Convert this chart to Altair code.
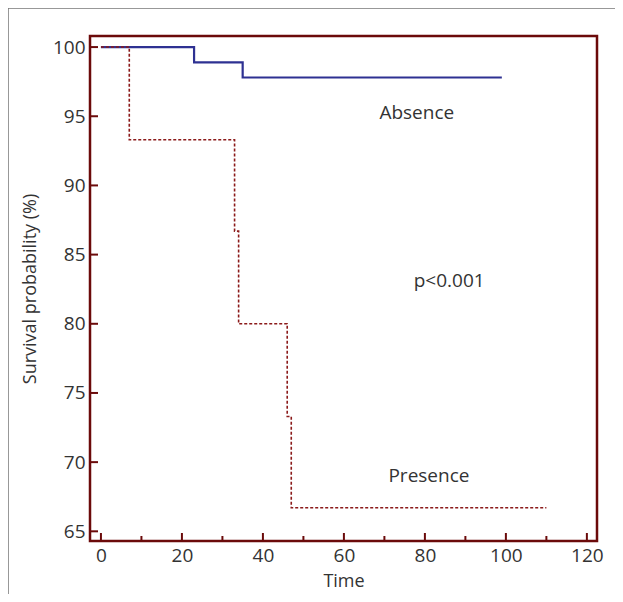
import altair as alt
import pandas as pd

# Kaplan-Meier step data
absence_time = [0, 23, 35, 99]
absence_surv = [100, 98.9, 97.8, 97.8]
presence_time = [0, 7, 33, 34, 46, 47, 110]
presence_surv = [100, 93.3, 86.7, 80.0, 73.3, 66.7, 66.7]

y_ticks = [65, 70, 75, 80, 85, 90, 95, 100]
x_major = [0, 20, 40, 60, 80, 100, 120]
x_minor = [10, 30, 50, 70, 90, 110]

labels = ["Absence", "p<0.001", "Presence"]
label_x = [78, 86, 81]
label_y = [95.2, 83.1, 69.0]

FONT = "Open Sans"
BORDER = "#6b0a0a"
W, H = 507, 505

xs = alt.Scale(domain=[-2.7, 122.5], nice=False, zero=False)
ys = alt.Scale(domain=[64.3, 100.8], nice=False, zero=False)

df_abs = pd.DataFrame({"t": absence_time, "s": absence_surv})
df_pre = pd.DataFrame({"t": presence_time, "s": presence_surv})

x_axis = alt.Axis(values=x_major, ticks=False, domain=False, grid=False,
                  labelFontSize=19, labelFont=FONT, labelColor="#333333",
                  labelPadding=5, title="Time", titleFont=FONT, titleFontSize=18,
                  titleFontWeight="normal", titleColor="#333333", titlePadding=7)
y_axis = alt.Axis(values=y_ticks, ticks=False, domain=False, grid=False,
                  labelFontSize=19, labelFont=FONT, labelColor="#333333",
                  labelPadding=5, title="Survival probability (%)", titleFont=FONT,
                  titleFontSize=18, titleFontWeight="normal", titleColor="#333333",
                  titlePadding=13)

absence = alt.Chart(df_abs).mark_line(interpolate="step-after", color="#2e3192",
                                      strokeWidth=2.2).encode(
    x=alt.X("t:Q", scale=xs, axis=x_axis),
    y=alt.Y("s:Q", scale=ys, axis=y_axis),
)
presence = alt.Chart(df_pre).mark_line(interpolate="step-after", color="#8b1a1a",
                                       strokeWidth=1.6, strokeDash=[3, 2]).encode(
    x=alt.X("t:Q", scale=xs),
    y=alt.Y("s:Q", scale=ys),
)

ytick = alt.Chart(pd.DataFrame({"v": y_ticks})).mark_rule(
    color=BORDER, strokeWidth=2).encode(
    y=alt.Y("v:Q", scale=ys), x=alt.value(0), x2=alt.value(8))
xmaj = alt.Chart(pd.DataFrame({"v": x_major})).mark_rule(
    color=BORDER, strokeWidth=2).encode(
    x=alt.X("v:Q", scale=xs), y=alt.value(H), y2=alt.value(H - 8))
xmin = alt.Chart(pd.DataFrame({"v": x_minor})).mark_rule(
    color=BORDER, strokeWidth=2).encode(
    x=alt.X("v:Q", scale=xs), y=alt.value(H), y2=alt.value(H - 5))

text = alt.Chart(pd.DataFrame({"lab": labels, "x": label_x, "y": label_y})).mark_text(
    font=FONT, fontSize=19, color="#333333").encode(
    x=alt.X("x:Q", scale=xs), y=alt.Y("y:Q", scale=ys), text="lab:N")

frame = alt.Chart(pd.DataFrame({"a": [0]})).mark_rect(
    fill=None, stroke="#777777", strokeWidth=1.5).encode(
    x=alt.value(-82), x2=alt.value(W + 60), y=alt.value(-28), y2=alt.value(H + 120))

chart = alt.layer(frame, absence, presence, ytick, xmaj, xmin, text).properties(
    width=W, height=H,
    autosize=alt.AutoSizeParams(type="none"),
    padding={"left": 82, "top": 28, "right": 18, "bottom": 53},
).configure(
    background="white",
    view=alt.ViewConfig(stroke=BORDER, strokeWidth=2.5),
)

chart.save("out.html", embed_options={"renderer": "svg", "actions": False})
